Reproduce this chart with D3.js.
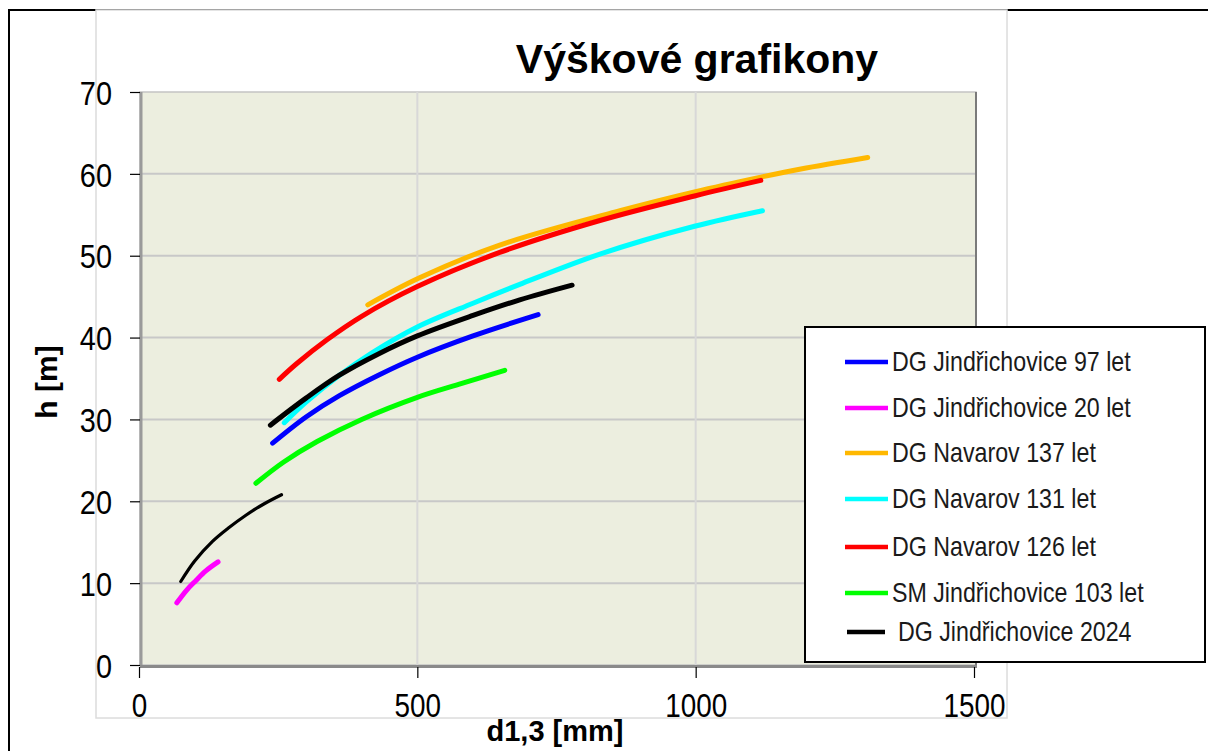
<!DOCTYPE html>
<html>
<head>
	<meta charset="utf-8">
	<title>Výškové grafikony</title>
	<script src="https://cdn.jsdelivr.net/npm/d3@7"></script>
	<style>
		body { margin: 0; background: #fff; }
		svg text { font-family: "Liberation Sans", Arial, sans-serif; }
	</style>
</head>
<body>
<div id="chart"></div>
<script type="text/javascript">

	// [d1,3 mm, h m]
	var jind97 = [[240,27.1],[300,30.3],[360,32.9],[430,35.4],[500,37.6],[600,40.2],[717,42.8]];
	var jind20 = [[68,7.6],[85,9.1],[102,10.3],[120,11.5],[142,12.6]];
	var nav137 = [[411,44.0],[504,47.3],[648,51.3],[864,55.5],[998,57.8],[1117,59.6],[1189,60.6],[1309,62.0]];
	var nav131 = [[261,29.6],[300,32.1],[360,35.4],[420,38.2],[500,41.3],[600,44.2],[684,46.5],[828,50.2],[998,53.6],[1120,55.5]];
	var nav126 = [[252,34.9],[283,36.8],[337,39.7],[400,42.6],[499,46.2],[648,50.4],[828,54.3],[998,57.3],[1117,59.2]];
	var sm103 = [[210,22.2],[260,24.8],[320,27.3],[400,30.0],[500,32.7],[580,34.4],[657,36.0]];
	var jind2024 = [[236,29.3],[300,32.6],[360,35.4],[430,38.0],[500,40.2],[600,42.7],[684,44.6],[778,46.4]];
	var jind2024low = [[75,10.2],[100,12.7],[132,15.1],[160,16.7],[192,18.3],[225,19.7],[256,20.8]];

	var seriesNames = ["DG Jindřichovice 97 let", "DG Jindřichovice 20 let", "DG Navarov 137 let",
		"DG Navarov 131 let", "DG Navarov 126 let", "SM Jindřichovice 103 let", "DG Jindřichovice 2024"];
	var seriesColors = ["#0000ff", "#ff00ff", "#ffb800", "#00ffff", "#ff0000", "#00ff00", "#000000"];
	var xTicks = [0, 500, 1000, 1500];
	var yTicks = [0, 10, 20, 30, 40, 50, 60, 70];

	var W = 1208, H = 751;
	var svg = d3.select("#chart").append("svg")
		.attr("width", W)
		.attr("height", H);

	//outer frame lines + pasted picture box
	svg.append("line").attr("x1", 8).attr("y1", 10).attr("x2", W).attr("y2", 10)
		.attr("stroke", "#000").attr("stroke-width", 2);
	svg.append("line").attr("x1", 9).attr("y1", 10).attr("x2", 9).attr("y2", H)
		.attr("stroke", "#000").attr("stroke-width", 2);
	svg.append("rect").attr("x", 96).attr("y", 10).attr("width", 911).attr("height", 708)
		.attr("fill", "#fff").attr("stroke", "#dcdcdc").attr("stroke-width", 1.5);

	var x = d3.scaleLinear().domain([0, 1500]).range([139, 974]);
	var y = d3.scaleLinear().domain([0, 70]).range([665, 92]);

	//plot area
	svg.append("rect")
		.attr("x", 140).attr("y", 92)
		.attr("width", 836).attr("height", 573)
		.attr("fill", "#eceedf")
		.attr("stroke", "#c4c4c4").attr("stroke-width", 1.5);

	//gridlines
	svg.append("g").selectAll("line")
		.data(yTicks.filter(function(d) { return d > 0 && d < 70; }))
		.enter().append("line")
		.attr("x1", 140).attr("x2", 976)
		.attr("y1", function(d) { return y(d); })
		.attr("y2", function(d) { return y(d); })
		.attr("stroke", "#c8c8c8").attr("stroke-width", 2);
	svg.append("g").selectAll("line")
		.data(xTicks.filter(function(d) { return d > 0 && d < 1500; }))
		.enter().append("line")
		.attr("x1", function(d) { return x(d); })
		.attr("x2", function(d) { return x(d); })
		.attr("y1", 92).attr("y2", 665)
		.attr("stroke", "#d8d8d8").attr("stroke-width", 2);

	//edges of plot (darker on left, right, bottom)
	svg.append("line").attr("x1", 141).attr("x2", 141).attr("y1", 92).attr("y2", 666)
		.attr("stroke", "#9a9a9a").attr("stroke-width", 3);
	svg.append("line").attr("x1", 976).attr("x2", 976).attr("y1", 92).attr("y2", 667)
		.attr("stroke", "#7a7a7a").attr("stroke-width", 2);
	svg.append("line").attr("x1", 140).attr("x2", 977).attr("y1", 666.5).attr("y2", 666.5)
		.attr("stroke", "#8a8a8a").attr("stroke-width", 3);

	//axes
	var yAxis = svg.append("g")
		.attr("transform", "translate(140,0)")
		.call(d3.axisLeft(y).tickValues(yTicks).tickSize(10).tickFormat(d3.format("d")));
	var xAxis = svg.append("g")
		.attr("transform", "translate(0,667)")
		.call(d3.axisBottom(x).tickValues(xTicks).tickSize(11).tickFormat(d3.format("d")));
	[yAxis, xAxis].forEach(function(a) {
		a.select(".domain").remove();
		a.selectAll(".tick line").attr("stroke", "#000").attr("stroke-width", 1.2);
		a.selectAll(".tick text")
			.attr("font-family", "Liberation Sans, Arial, sans-serif")
			.attr("font-size", "34px")
			.attr("fill", "#000");
	});
	yAxis.selectAll(".tick text")
		.attr("x", -28 / 0.85)
		.attr("dy", "0.36em")
		.attr("transform", "scale(0.85,1)");
	xAxis.selectAll(".tick text")
		.attr("y", 0)
		.attr("dy", 50)
		.attr("transform", "scale(0.82,1)");

	//curves
	var line = d3.line()
		.x(function(d) { return x(d[0]); })
		.y(function(d) { return y(d[1]); })
		.curve(d3.curveCatmullRom.alpha(0.5));

	var curves = [
		{ data: jind2024low, color: seriesColors[6], w: 3.2 },
		{ data: jind97, color: seriesColors[0], w: 5 },
		{ data: jind20, color: seriesColors[1], w: 5 },
		{ data: nav137, color: seriesColors[2], w: 5 },
		{ data: nav131, color: seriesColors[3], w: 5 },
		{ data: nav126, color: seriesColors[4], w: 5 },
		{ data: sm103, color: seriesColors[5], w: 5 },
		{ data: jind2024, color: seriesColors[6], w: 5 }
	];
	svg.append("g").selectAll("path")
		.data(curves)
		.enter().append("path")
		.attr("d", function(c) { return line(c.data); })
		.attr("fill", "none")
		.attr("stroke", function(c) { return c.color; })
		.attr("stroke-width", function(c) { return c.w; })
		.attr("stroke-linecap", "round");

	//title and axis titles
	svg.append("text")
		.attr("x", 697).attr("y", 73)
		.attr("text-anchor", "middle")
		.attr("font-size", "41px").attr("font-weight", "bold")
		.text("Výškové grafikony");
	svg.append("text")
		.attr("transform", "translate(57,382) rotate(-90)")
		.attr("text-anchor", "middle")
		.attr("font-size", "30px").attr("font-weight", "bold")
		.text("h [m]");
	svg.append("text")
		.attr("x", 555).attr("y", 741)
		.attr("text-anchor", "middle")
		.attr("font-size", "29px").attr("font-weight", "bold")
		.text("d1,3 [mm]");

	//legend
	var legend = svg.append("g");
	legend.append("rect")
		.attr("x", 805).attr("y", 327)
		.attr("width", 400).attr("height", 335)
		.attr("fill", "#fff")
		.attr("stroke", "#000").attr("stroke-width", 2);
	var legendY = [362, 408, 453, 499, 547, 593, 632];
	var items = legend.selectAll("g.item")
		.data(seriesNames)
		.enter().append("g")
		.attr("class", "item")
		.attr("transform", function(d, i) { return "translate(0," + legendY[i] + ")"; });
	items.append("line")
		.attr("x1", function(d, i) { return i == 6 ? 847 : 845; })
		.attr("x2", function(d, i) { return i == 6 ? 885 : 888; })
		.attr("stroke", function(d, i) { return seriesColors[i]; })
		.attr("stroke-width", 4.5);
	items.append("text")
		.attr("transform", function(d, i) { return "translate(" + (i == 6 ? 898 : 892) + ",9) scale(0.86,1)"; })
		.attr("font-size", "27px")
		.attr("fill", "#1a1a1a")
		.text(function(d) { return d; });

</script>
</body>
</html>
